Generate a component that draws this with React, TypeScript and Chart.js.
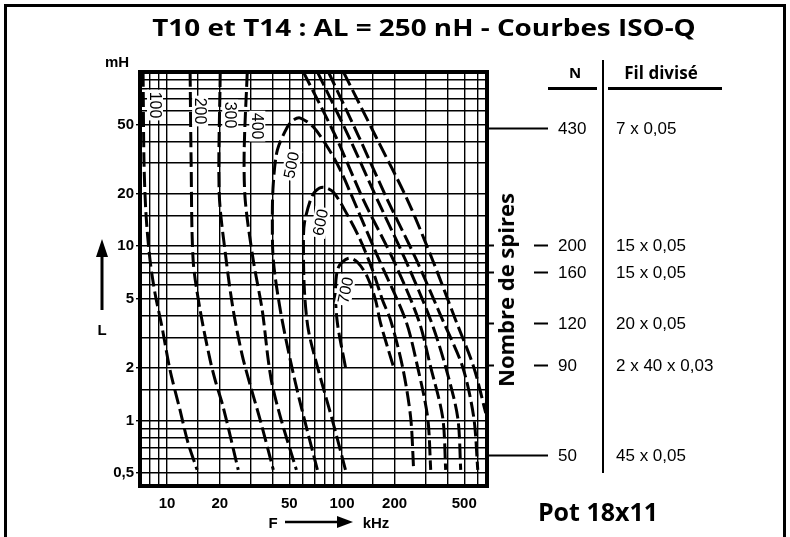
import React, { useEffect, useRef } from 'react';
import { Chart, registerables } from 'chart.js';
Chart.register(...registerables);

// ---- axes (kHz / mH) ----
const freqRange = [7.0, 675];
const inductRange = [0.42, 100];
const freqGrid = [8, 9, 10, 15, 20, 30, 40, 50, 60, 70, 80, 90, 100, 150, 200, 300, 400, 500, 600];
const freqTickValues = [10, 20, 50, 100, 200, 500];
const freqTickLabels = ['10', '20', '50', '100', '200', '500'];
const inductGrid = [0.5, 0.6, 0.7, 0.8, 0.9, 1, 1.5, 2, 3, 4, 5, 6, 7, 8, 9, 10, 15, 20, 30, 40, 50, 60, 70, 80, 90];
const inductTickValues = [0.5, 1, 2, 5, 10, 20, 50];
const inductTickLabels = ['0,5', '1', '2', '5', '10', '20', '50'];

// ---- iso-Q curves: [f kHz, L mH] ----
const q100Left = [[7.29, 100], [7.38, 30], [7.58, 15.1], [7.99, 8.31], [8.53, 5.37], [9.36, 3.42], [10.4, 1.94], [11.87, 1.14], [13.19, 0.74], [14.85, 0.52]];
const q100Right = [[102, 100], [155.6, 42.9], [237, 18.4], [330, 8.31], [447, 3.76], [567, 2.02], [664, 1.1]];
const q200Left = [[13.54, 100], [13.72, 31.2], [14.09, 8.31], [15.45, 4.29], [17.64, 2.21], [18.84, 1.7], [20.94, 1.19], [25.52, 0.52]];
const q200Right = [[83.7, 100], [124.3, 42.9], [182.3, 18.4], [267, 8.31], [376.6, 3.76], [490.4, 2.02], [567, 1.04], [597.7, 0.52]];
const q300Left = [[20.13, 100], [19.86, 20.2], [21.78, 8.31], [23.89, 4.29], [26.9, 2.36], [29.9, 1.59], [34.12, 1.0], [40.5, 0.52]];
const q300Right = [[72.4, 100], [109, 42.9], [159.7, 18.4], [231, 8.31], [321.6, 3.76], [391.8, 2.02], [459, 1.04], [477.5, 0.52]];
const q400Left = [[28.74, 100], [27.6, 35.6], [27.98, 18.4], [31.1, 8.31], [35.0, 4.29], [37.9, 2.21], [39.97, 1.59], [45.0, 1.0], [54.87, 0.52]];
const q400Right = [[60.17, 100], [91.8, 42.9], [132.8, 18.4], [197, 8.31], [274.4, 3.76], [321.6, 2.02], [376.6, 1.04], [391.8, 0.52]];
const q500 = [[72.37, 0.52], [57.84, 1.25], [50.69, 2.21], [44.42, 4.29], [40.5, 8.31], [39.97, 14.7], [40.5, 23.0], [42.7, 35.6], [48.72, 48.3], [52.7, 53], [57.84, 54.4], [68.65, 48.3], [82.6, 37.1], [98, 27.3], [111.9, 20.2], [159.7, 8.76], [231.2, 3.76], [270.8, 2.02], [309, 1.04], [321.6, 0.52]];
const q600 = [[104.7, 0.52], [88.2, 1.0], [73.3, 1.94], [64.3, 3.29], [60.97, 5.59], [60.2, 10.8], [61.0, 13.6], [65.99, 18.4], [70.5, 20.7], [78.34, 21.8], [89.4, 20.4], [107.5, 15.1], [127.6, 10.8], [149.6, 7.28], [170.7, 4.9], [189.7, 3.76], [222.2, 2.02], [247, 1.04], [256.9, 0.52]];
const q700 = [[104.7, 2.02], [94.2, 3.61], [91.8, 5.59], [95.5, 7.57], [109, 8.53], [122.7, 8.09], [140, 6.63], [155.6, 4.9], [166.2, 3.61], [197.3, 2.02]];

// ---- curve labels ----
const isoLabels = ['100', '200', '300', '400', '500', '600', '700'];
const isoLabelFreq = [8.53, 15.45, 22.96, 32.8, 51.4, 75.3, 104.7];
const isoLabelInduct = [64.6, 59.7, 56.6, 48.9, 29.2, 13.7, 5.59];

// ---- turns table ----
const turnsN = ['430', '200', '160', '120', '90', '50'];
const turnsInduct = [47.5, 10.1, 7.1, 3.6, 2.07, 0.63];
const wireSpec = ['7 x 0,05', '15 x 0,05', '15 x 0,05', '20 x 0,05', '2 x 40 x 0,03', '45 x 0,05'];

const curves = [q100Left, q100Right, q200Left, q200Right, q300Left, q300Right, q400Left, q400Right, q500, q600, q700];

const overlayPlugin = {
  id: 'overlay',
  afterDatasetsDraw(chart: any) {
    const { ctx } = chart;
    const x = chart.scales.x;
    const y = chart.scales.y;
    ctx.save();
    ctx.font = '16px "Liberation Sans", Arial, sans-serif';
    isoLabels.forEach((t, i) => {
      const px = x.getPixelForValue(isoLabelFreq[i]);
      const py = y.getPixelForValue(isoLabelInduct[i]);
      ctx.save();
      ctx.translate(px, py);
      ctx.rotate(i < 4 ? Math.PI / 2 : -Math.PI / 2 + 0.2);
      const w = ctx.measureText(t).width;
      ctx.fillStyle = '#fff';
      ctx.fillRect(-w / 2 - 2, -8, w + 4, 16);
      ctx.fillStyle = '#000';
      ctx.textAlign = 'center';
      ctx.textBaseline = 'middle';
      ctx.fillText(t, 0, 1);
      ctx.restore();
    });
    ctx.restore();
  },
  afterDraw(chart: any) {
    const { ctx, chartArea: a } = chart;
    const y = chart.scales.y;
    ctx.save();
    ctx.strokeStyle = '#000';
    ctx.lineWidth = 4;
    ctx.strokeRect(a.left, a.top, a.right - a.left, a.bottom - a.top);

    // turns ticks & labels
    ctx.lineWidth = 2;
    ctx.fillStyle = '#000';
    ctx.textBaseline = 'middle';
    ctx.textAlign = 'left';
    ctx.font = '17px "Liberation Sans", Arial, sans-serif';
    turnsN.forEach((n, i) => {
      const py = Math.round(y.getPixelForValue(turnsInduct[i])) + 0.5;
      const insideTitle = py > 185 && py < 395;
      ctx.beginPath();
      if (insideTitle) {
        ctx.moveTo(a.right, py); ctx.lineTo(a.right + 7, py);
        ctx.moveTo(a.right + 47, py); ctx.lineTo(a.right + 61, py);
      } else {
        ctx.moveTo(a.right, py); ctx.lineTo(a.right + 61, py);
      }
      ctx.stroke();
      ctx.fillText(n, a.right + 71, py + 1);
      ctx.fillText(wireSpec[i], a.right + 129, py + 1);
    });

    // table rules
    ctx.lineWidth = 3;
    ctx.beginPath();
    ctx.moveTo(548, 88.5); ctx.lineTo(597, 88.5);
    ctx.moveTo(608, 88.5); ctx.lineTo(722, 88.5);
    ctx.stroke();
    ctx.lineWidth = 2;
    ctx.beginPath();
    ctx.moveTo(603, 60); ctx.lineTo(603, 473);
    ctx.stroke();
    ctx.restore();
  },
};

const tickFont = { family: '"Liberation Sans", Arial, sans-serif', size: 15, weight: 'bold' as const };

export default function App() {
  const ref = useRef<HTMLCanvasElement>(null);
  useEffect(() => {
    if (!ref.current) return;
    const chart = new Chart(ref.current, {
      type: 'scatter',
      data: {
        datasets: curves.map((c) => ({
          data: c.map(([f, L]) => ({ x: f, y: L })),
          showLine: true,
          borderColor: '#000',
          borderWidth: 3,
          borderDash: [15, 5],
          pointRadius: 0,
          tension: 0.3,
          fill: false,
        })),
      },
      options: {
        responsive: false,
        animation: false,
        layout: { padding: { left: 90, top: 72, right: 303, bottom: 0 } },
        plugins: { legend: { display: false }, tooltip: { enabled: false }, title: { display: false } },
        scales: {
          x: {
            type: 'logarithmic',
            min: freqRange[0],
            max: freqRange[1],
            afterBuildTicks: (s: any) => { s.ticks = freqGrid.map((v) => ({ value: v })); },
            afterFit: (s: any) => { s.height = 51; },
            grid: { color: '#000', lineWidth: 1.4, drawTicks: false },
            border: { display: false },
            ticks: {
              autoSkip: false, maxRotation: 0, padding: 9, color: '#000', font: tickFont,
              callback: (v: any) => { const i = freqTickValues.indexOf(Number(v)); return i >= 0 ? freqTickLabels[i] : ''; },
            },
          },
          y: {
            type: 'logarithmic',
            min: inductRange[0],
            max: inductRange[1],
            afterBuildTicks: (s: any) => { s.ticks = inductGrid.map((v) => ({ value: v })); },
            afterFit: (s: any) => { s.width = 50; },
            grid: {
              color: '#000', lineWidth: 1.4, drawTicks: true, tickLength: 4,
              tickColor: (c: any) => (c.tick && inductTickValues.includes(c.tick.value) ? '#000' : 'rgba(0,0,0,0)'),
            },
            border: { display: false },
            ticks: {
              autoSkip: false, padding: 2, color: '#000', font: tickFont,
              callback: (v: any) => { const i = inductTickValues.indexOf(Number(v)); return i >= 0 ? inductTickLabels[i] : ''; },
            },
          },
        },
      },
      plugins: [overlayPlugin],
    } as any);
    return () => chart.destroy();
  }, []);

  const sans = '"Liberation Sans", Arial, sans-serif';
  const open = '"Open Sans", sans-serif';
  const center = (x: number, y: number): React.CSSProperties => ({
    position: 'absolute', left: x, top: y, transform: 'translate(-50%, -50%)', whiteSpace: 'nowrap', lineHeight: 1,
  });

  return (
    <div style={{ position: 'fixed', left: 0, top: 0, width: 790, height: 537, background: '#fff', overflow: 'hidden' }}>
      <div style={{ position: 'absolute', left: 4, top: 4, width: 782, height: 600, border: '3px solid #000', boxSizing: 'border-box' }} />
      <canvas ref={ref} width={790} height={537} style={{ position: 'absolute', left: 0, top: 0 }} />
      <div style={{ ...center(424, 27), transform: 'translate(-50%, -50%) scaleX(1.16)', fontFamily: open, fontWeight: 700, fontSize: 24 }}>T10 et T14 : AL = 250 nH - Courbes ISO-Q</div>
      <div style={{ ...center(117, 61), fontFamily: sans, fontWeight: 700, fontSize: 15 }}>mH</div>
      <svg style={{ position: 'absolute', left: 94, top: 236, width: 16, height: 80 }}>
        <polygon points="8,3 2,21 14,21" fill="#000" />
        <line x1="8" y1="18" x2="8" y2="74" stroke="#000" strokeWidth="3" />
      </svg>
      <div style={{ ...center(102, 329), fontFamily: sans, fontWeight: 700, fontSize: 15 }}>L</div>
      <div style={{ ...center(273, 522), fontFamily: sans, fontWeight: 700, fontSize: 15 }}>F</div>
      <svg style={{ position: 'absolute', left: 283, top: 514, width: 74, height: 16 }}>
        <line x1="2" y1="8" x2="58" y2="8" stroke="#000" strokeWidth="2.5" />
        <polygon points="70,8 54,2 54,14" fill="#000" />
      </svg>
      <div style={{ ...center(376, 522), fontFamily: sans, fontWeight: 700, fontSize: 15 }}>kHz</div>
      <div style={{ ...center(505, 290), transform: 'translate(-50%, -50%) rotate(-90deg)', fontFamily: open, fontWeight: 700, fontSize: 22 }}>Nombre de spires</div>
      <div style={{ ...center(575, 72), fontFamily: open, fontWeight: 700, fontSize: 15 }}>N</div>
      <div style={{ ...center(661, 72), fontFamily: open, fontWeight: 700, fontSize: 17 }}>Fil divisé</div>
      <div style={{ ...center(598, 511), fontFamily: open, fontWeight: 700, fontSize: 25 }}>Pot 18x11</div>
    </div>
  );
}
